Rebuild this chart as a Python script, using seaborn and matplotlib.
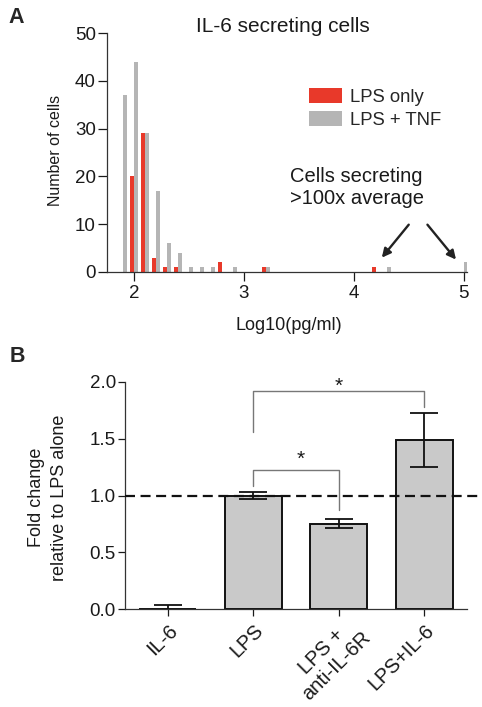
import numpy as np
import pandas as pd
import matplotlib
matplotlib.use("Agg")
import matplotlib.pyplot as plt
import seaborn as sns
from matplotlib.patches import Patch

sns.set_theme(style="ticks")
plt.rcParams['font.family'] = ['Liberation Sans', 'DejaVu Sans']

# ---------------- Panel A data ----------------
bins = [1.9, 2.0, 2.1, 2.2, 2.3, 2.4, 2.5, 2.6, 2.7, 2.8, 2.9, 3.0, 3.1, 3.2,
        4.2, 4.3, 5.0]
lps_only = [0, 20, 29, 3, 1, 1, 0, 0, 0, 2, 0, 0, 0, 1, 1, 0, 0]
lps_tnf = [37, 44, 29, 17, 6, 4, 1, 1, 1, 0, 1, 0, 0, 1, 0, 1, 2]
conds = ["LPS only", "LPS + TNF"]
colors_a = ["#E8392A", "#B5B5B5"]

# ---------------- Panel B data ----------------
groups = ["IL-6", "LPS", "LPS +\nanti-IL-6R", "LPS+IL-6"]
fold = [0.0, 1.0, 0.75, 1.49]
sem = [0.035, 0.03, 0.04, 0.24]

TXT = "#1a1a1a"
fig = plt.figure(figsize=(4.82, 7.07), dpi=100)

# Panel A
axA = fig.add_axes([107/482, 1-272/707, (467-107)/482, (272-33)/707])
dfA = pd.DataFrame({
    "bin": bins * 2,
    "count": lps_only + lps_tnf,
    "cond": [conds[0]] * len(bins) + [conds[1]] * len(bins),
})
sns.barplot(data=dfA, x="bin", y="count", hue="cond", native_scale=True,
            palette=colors_a, width=0.72, linewidth=0, ax=axA, legend=False,
            errorbar=None, saturation=1)
axA.set_xlim(1.755, 5.03)
axA.set_ylim(0, 50)
axA.set_xticks([2, 3, 4, 5])
axA.set_xticklabels(["2", "3", "4", "5"])
axA.set_yticks([0, 10, 20, 30, 40, 50])
axA.set_ylabel("Number of cells", fontsize=11.5, color=TXT)
axA.yaxis.set_label_coords(-0.122, 0.51)
axA.set_xlabel("Log10(pg/ml)", fontsize=13, color=TXT, va="top")
axA.xaxis.set_label_coords(0.504, -0.19)
axA.tick_params(labelsize=13.5, length=6.5, width=0.9, colors=TXT)
axA.tick_params(axis="y", pad=1.5)
axA.tick_params(axis="x", pad=3)
for s in ["top", "right"]:
    axA.spines[s].set_visible(False)
for s in ["left", "bottom"]:
    axA.spines[s].set_linewidth(0.9)
    axA.spines[s].set_color("#333333")
fig.text(283.3/482, 1-27/707, "IL-6 secreting cells", fontsize=15, color=TXT,
         ha="center", va="center")
handles = [Patch(facecolor=c, edgecolor="none") for c in colors_a]
axA.legend(handles, conds, loc="upper left", bbox_to_anchor=(0.561, 0.768),
           frameon=False, fontsize=13.3, handlelength=1.78, handleheight=0.8,
           handletextpad=0.43, labelspacing=0.3, borderaxespad=0, borderpad=0)
axA.text(3.418, 17.7, "Cells secreting\n>100x average", fontsize=14.5,
         ha="left", va="center", color=TXT, linespacing=1.15)
axA.annotate("", xy=(4.255, 3.0), xytext=(4.50, 9.9),
             arrowprops=dict(arrowstyle="-|>", color="#222222", lw=1.7,
                             mutation_scale=13, shrinkA=0, shrinkB=0))
axA.annotate("", xy=(4.93, 2.6), xytext=(4.67, 9.9),
             arrowprops=dict(arrowstyle="-|>", color="#222222", lw=1.7,
                             mutation_scale=13, shrinkA=0, shrinkB=0))
fig.text(16.5/482, 1-17.5/707, "A", fontsize=15.5, fontweight="bold",
         ha="center", va="center")

# Panel B
axB = fig.add_axes([125/482, 1-609/707, (467-125)/482, (609-382)/707])
dfB = pd.DataFrame({"group": groups, "fold": fold, "sem": sem})
sns.barplot(data=dfB, x="group", y="fold", color="#C9C9C9", saturation=1,
            edgecolor="#111111", linewidth=1.4, width=0.67, errorbar=None, ax=axB)
xs = np.arange(len(groups))
axB.errorbar(xs, dfB["fold"], yerr=dfB["sem"], fmt="none", ecolor="#111111",
             elinewidth=1.3, capsize=10, capthick=1.3, zorder=5)
axB.set_xlim(-0.5, 3.5)
axB.set_ylim(0, 2.0)
axB.set_yticks([0.0, 0.5, 1.0, 1.5, 2.0])
axB.set_yticklabels(["0.0", "0.5", "1.0", "1.5", "2.0"])
axB.axhline(1.0, xmin=0, xmax=1.04, color="#111111", lw=1.6, ls=(0, (4.5, 2.5)),
            clip_on=False, zorder=6)
axB.set_ylabel("Fold change\nrelative to LPS alone", fontsize=13, color=TXT,
               linespacing=1.45)
axB.yaxis.set_label_coords(-0.168, 0.49)
axB.set_xlabel("")
axB.tick_params(axis="y", labelsize=13.5, length=5, width=0.9, colors=TXT, pad=1.5)
axB.tick_params(axis="x", labelsize=14.5, length=5, width=0.9, colors=TXT)
# x tick labels: multi-line label drawn as text with slight shift like the reference
tick_texts = [g if "\n" not in g else "" for g in groups]
axB.set_xticks(xs)
axB.set_xticklabels(tick_texts)
plt.setp(axB.get_xticklabels(), rotation=45, ha="right", rotation_mode="anchor")
for i, g in enumerate(groups):
    if "\n" in g:
        axB.annotate(g, xy=(i, 0), xycoords=("data", "axes fraction"),
                     xytext=(5.4, -3.3), textcoords="offset points",
                     rotation=45, ha="right", va="top", rotation_mode="anchor",
                     multialignment="center", fontsize=14.5, color=TXT,
                     linespacing=1.1, annotation_clip=False)
for s in ["top", "right"]:
    axB.spines[s].set_visible(False)
for s in ["left", "bottom"]:
    axB.spines[s].set_linewidth(0.9)
    axB.spines[s].set_color("#333333")

# significance brackets
bc = "#777777"
axB.plot([1, 1, 2, 2], [1.085, 1.223, 1.223, 0.874], color=bc, lw=1.0, zorder=7)
axB.text(1.55, 1.32, "*", ha="center", va="center", fontsize=15, color=TXT)
axB.plot([1, 1, 3, 3], [1.557, 1.92, 1.92, 1.78], color=bc, lw=1.0, zorder=7,
         clip_on=False)
axB.text(2.0, 1.96, "*", ha="center", va="center", fontsize=15, color=TXT,
         clip_on=False)
fig.text(17/482, 1-357/707, "B", fontsize=15.5, fontweight="bold",
         ha="center", va="center")

fig.savefig("out.png", dpi=100)
